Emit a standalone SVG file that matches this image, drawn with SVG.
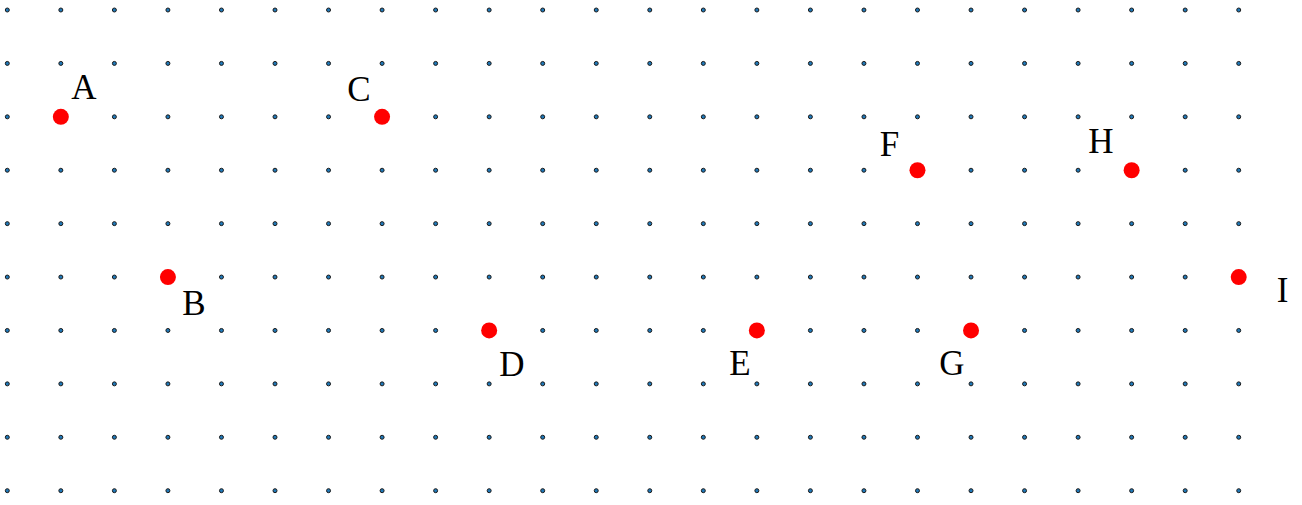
<svg xmlns="http://www.w3.org/2000/svg" xmlns:xlink="http://www.w3.org/1999/xlink" width="1302" height="505" viewBox="0 0 1302 505">
<style>
.g{fill:#1f78b8;stroke:#1a1a1a;stroke-width:1}
.p{fill:#ff0000;stroke:none}
.l{font-family:"Liberation Serif","Times New Roman",serif;font-size:35px;fill:#000;text-anchor:middle}
</style>
<defs>
<g id="row" class="g">
<circle cx="7.3" cy="0" r="2"/><circle cx="60.84" cy="0" r="2"/><circle cx="114.38" cy="0" r="2"/><circle cx="167.92" cy="0" r="2"/><circle cx="221.46" cy="0" r="2"/><circle cx="275" cy="0" r="2"/><circle cx="328.54" cy="0" r="2"/><circle cx="382.08" cy="0" r="2"/><circle cx="435.62" cy="0" r="2"/><circle cx="489.16" cy="0" r="2"/><circle cx="542.7" cy="0" r="2"/><circle cx="596.24" cy="0" r="2"/><circle cx="649.78" cy="0" r="2"/><circle cx="703.32" cy="0" r="2"/><circle cx="756.86" cy="0" r="2"/><circle cx="810.4" cy="0" r="2"/><circle cx="863.94" cy="0" r="2"/><circle cx="917.48" cy="0" r="2"/><circle cx="971.02" cy="0" r="2"/><circle cx="1024.56" cy="0" r="2"/><circle cx="1078.1" cy="0" r="2"/><circle cx="1131.64" cy="0" r="2"/><circle cx="1185.18" cy="0" r="2"/><circle cx="1238.72" cy="0" r="2"/>
</g>
</defs>
<rect width="1302" height="505" fill="#ffffff"/>
<g id="grid">
<use xlink:href="#row" href="#row" y="10"/>
<use xlink:href="#row" href="#row" y="63.41"/>
<use xlink:href="#row" href="#row" y="116.82"/>
<use xlink:href="#row" href="#row" y="170.23"/>
<use xlink:href="#row" href="#row" y="223.64"/>
<use xlink:href="#row" href="#row" y="277.05"/>
<use xlink:href="#row" href="#row" y="330.46"/>
<use xlink:href="#row" href="#row" y="383.87"/>
<use xlink:href="#row" href="#row" y="437.28"/>
<use xlink:href="#row" href="#row" y="490.69"/>
</g>
<g id="connectors"></g>
<g id="node-A"><circle class="p" cx="60.84" cy="116.82" r="8"/><text class="l" x="84" y="99">A</text></g>
<g id="node-B"><circle class="p" cx="167.92" cy="277.05" r="8"/><text class="l" x="194" y="315">B</text></g>
<g id="node-C"><circle class="p" cx="382.08" cy="116.82" r="8"/><text class="l" x="359" y="100.5">C</text></g>
<g id="node-D"><circle class="p" cx="489.16" cy="330.46" r="8"/><text class="l" x="512" y="375.5">D</text></g>
<g id="node-E"><circle class="p" cx="756.86" cy="330.46" r="8"/><text class="l" x="740" y="375">E</text></g>
<g id="node-F"><circle class="p" cx="917.48" cy="170.23" r="8"/><text class="l" x="889.5" y="156">F</text></g>
<g id="node-G"><circle class="p" cx="971.02" cy="330.46" r="8"/><text class="l" x="952" y="374.5">G</text></g>
<g id="node-H"><circle class="p" cx="1131.64" cy="170.23" r="8"/><text class="l" x="1101" y="152.5">H</text></g>
<g id="node-I"><circle class="p" cx="1238.72" cy="277.05" r="8"/><text class="l" x="1282.5" y="302">I</text></g>
</svg>
